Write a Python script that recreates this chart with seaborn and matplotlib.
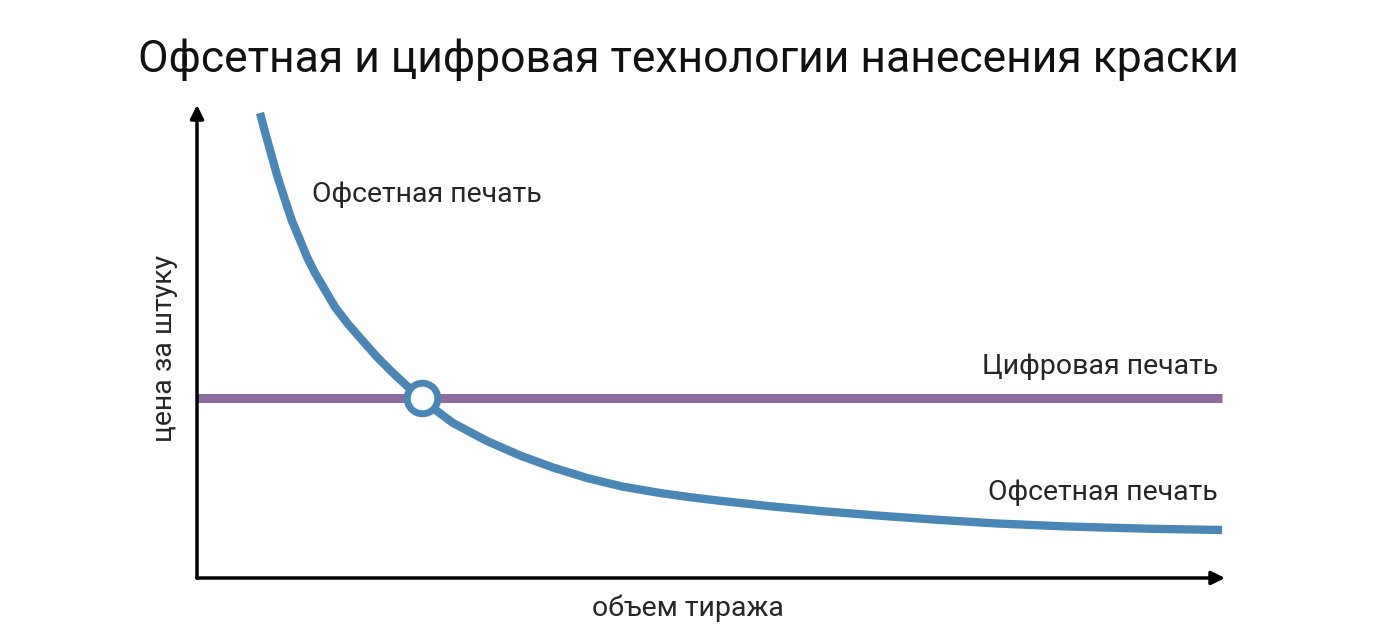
import matplotlib
matplotlib.use("Agg")
import matplotlib.pyplot as plt
import seaborn as sns
import pandas as pd

# ── data (arbitrary units) ──────────────────────────────────────────────────
offset_volume = [63, 68, 73, 80, 88, 95, 103, 110, 118, 128, 138, 151, 165, 180,
                 196, 210, 225, 240, 256, 290, 323, 356, 390, 425, 463, 493,
                 523, 573, 623, 680, 736, 800, 870, 950, 1025]
offset_price = [465, 446, 428, 403, 378, 357, 338, 321, 305, 288, 271, 254, 238, 221,
                205, 192, 180, 167, 155, 137, 122.5, 110.5, 100, 91.5, 85, 80.8,
                77.2, 71.8, 67, 62.5, 58.5, 54.5, 51.5, 49.3, 48]

digital_volume = [0, 1025]
digital_price = [180, 180]

break_even = (225, 180)

title = "Офсетная и цифровая технологии нанесения краски"
x_label = "объем тиража"
y_label = "цена за штуку"
offset_label = "Офсетная печать"
digital_label = "Цифровая печать"

BLUE = "#4a87b6"
PURPLE = "#8f6ca0"

sns.set_theme(style="white")
plt.rcParams["font.family"] = ["Roboto", "DejaVu Sans"]

fig = plt.figure(figsize=(13.76, 6.39), dpi=100)
ax = fig.add_axes([197 / 1376, 61 / 639, 1028 / 1376, 473 / 639])
ax.set_xlim(0, 1028)
ax.set_ylim(0, 473)

df_off = pd.DataFrame({"volume": offset_volume, "price": offset_price})
df_dig = pd.DataFrame({"volume": digital_volume, "price": digital_price})

sns.lineplot(data=df_dig, x="volume", y="price", ax=ax, color=PURPLE, lw=6.5,
             solid_capstyle="butt", zorder=2)
sns.lineplot(data=df_off, x="volume", y="price", ax=ax, color=BLUE, lw=6,
             solid_capstyle="butt", solid_joinstyle="round", zorder=3, sort=False)
ax.plot(*break_even, "o", ms=22, mfc="white", mec=BLUE, mew=5, zorder=4)

# axes with arrows
for s in ax.spines.values():
    s.set_visible(False)
arrow = dict(arrowstyle="-|>", lw=2.5, color="black", mutation_scale=20,
             shrinkA=0, shrinkB=0)
ax.annotate("", xy=(1.0, 0), xytext=(0, 0), xycoords="axes fraction",
            arrowprops=arrow, annotation_clip=False)
ax.annotate("", xy=(0, 1.0), xytext=(0, 0), xycoords="axes fraction",
            arrowprops=arrow, annotation_clip=False)
ax.set_xticks([])
ax.set_yticks([])
ax.set_xlabel("")
ax.set_ylabel("")

# texts
fig.text(0.5, 1 - 60 / 639, title, ha="center", va="center", fontsize=32, color="#111111")
fig.text(688 / 1376, 1 - 608 / 639, x_label, ha="center", va="center", fontsize=20.5)
fig.text(165 / 1376, 1 - 348 / 639, y_label, ha="center", va="center", fontsize=20.5,
         rotation=90)
ax.text(115, 578 - 195, offset_label, ha="left", va="center", fontsize=20.5)
ax.text(1021, 578 - 367, digital_label, ha="right", va="center", fontsize=20.5)
ax.text(1021, 578 - 493, offset_label, ha="right", va="center", fontsize=20.5)

fig.savefig("out.png", dpi=100, facecolor="white")
